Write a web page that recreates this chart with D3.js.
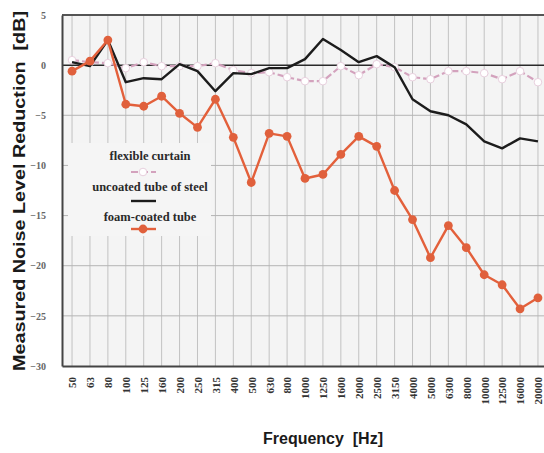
<!DOCTYPE html>
<html>
<head>
<meta charset="utf-8">
<script src="https://cdn.jsdelivr.net/npm/d3@7"></script>
<style>
  html, body { margin: 0; padding: 0; background: #ffffff; }
  svg { display: block; }
</style>
</head>
<body>
<svg id="chart" width="544" height="453"></svg>
<script>
// Third-octave band centre frequencies (Hz)
const categories = ["50","63","80","100","125","160","200","250","315","400","500","630","800",
  "1000","1250","1600","2000","2500","3150","4000","5000","6300","8000","10000","12500","16000","20000"];

// Measured noise level reduction (dB) per band
const flexibleCurtain = [0.5, 0.3, 0.2, -0.3, 0.3, -0.1, -0.1, -0.1, 0.2, -0.5, -0.8, -0.7, -1.2,
  -1.6, -1.6, -0.1, -1.0, 0.1, -0.2, -1.2, -1.4, -0.6, -0.6, -0.8, -1.4, -0.6, -1.7];
const uncoatedTube = [0.3, -0.1, 2.5, -1.7, -1.3, -1.4, 0.1, -0.6, -2.6, -0.8, -0.9, -0.3, -0.3,
  0.6, 2.6, 1.5, 0.3, 0.9, -0.2, -3.4, -4.6, -5.0, -5.9, -7.6, -8.3, -7.3, -7.6];
const foamCoatedTube = [-0.6, 0.4, 2.5, -3.9, -4.1, -3.1, -4.8, -6.2, -3.4, -7.2, -11.7, -6.8, -7.1,
  -11.3, -10.9, -8.9, -7.1, -8.1, -12.5, -15.4, -19.2, -16.0, -18.2, -20.9, -21.9, -24.3, -23.2];

const yTicks = [5, 0, -5, -10, -15, -20, -25, -30];
const legendLabels = ["flexible curtain", "uncoated tube of steel", "foam-coated tube"];

const svg = d3.select("#chart");
const plotLeft = 62, plotRight = 548, plotTop = 15, plotBottom = 366;

const x = d3.scalePoint().domain(categories).range([plotLeft, plotRight]).padding(0.56);
const y = d3.scaleLinear().domain([-30, 5]).range([plotBottom, plotTop]);

// plot background
svg.append("rect")
  .attr("x", plotLeft).attr("y", plotTop)
  .attr("width", plotRight - plotLeft).attr("height", plotBottom - plotTop)
  .attr("fill", "#f4f4f4");

// vertical grid at every band
svg.append("g").selectAll("line").data(categories).join("line")
  .attr("x1", d => x(d)).attr("x2", d => x(d))
  .attr("y1", plotTop).attr("y2", plotBottom)
  .attr("stroke", "#c2c2c2").attr("stroke-width", 1);

// horizontal grid
svg.append("g").selectAll("line").data(yTicks.filter(v => v !== 0 && v !== 5 && v !== -30)).join("line")
  .attr("x1", plotLeft).attr("x2", plotRight)
  .attr("y1", d => y(d)).attr("y2", d => y(d))
  .attr("stroke", "#b4b4b4").attr("stroke-width", 1);

// legend panel covers the grid behind it
svg.append("rect")
  .attr("x", 68).attr("y", 143).attr("width", 143).attr("height", 93)
  .attr("fill", "#f5f5f5");

// zero reference line
svg.append("line")
  .attr("x1", plotLeft).attr("x2", plotRight)
  .attr("y1", y(0)).attr("y2", y(0))
  .attr("stroke", "#2a2a2a").attr("stroke-width", 1.5);

// frame top
svg.append("line").attr("x1", plotLeft).attr("x2", plotRight).attr("y1", plotTop).attr("y2", plotTop)
  .attr("stroke", "#555").attr("stroke-width", 2);

// y axis
const yAxis = svg.append("g")
  .attr("transform", `translate(${plotLeft},0)`)
  .call(d3.axisLeft(y).tickValues(yTicks).tickSize(0).tickPadding(16));
yAxis.select(".domain").attr("stroke", "#444").attr("stroke-width", 2);
yAxis.selectAll("text")
  .attr("font-family", "Liberation Serif, serif")
  .attr("font-size", 10)
  .attr("font-weight", "bold")
  .attr("fill", "#666");

// x axis
const xAxis = svg.append("g")
  .attr("transform", `translate(0,${plotBottom})`)
  .call(d3.axisBottom(x).tickSize(0));
xAxis.select(".domain").attr("stroke", "#444").attr("stroke-width", 2);
xAxis.selectAll("text")
  .attr("transform", "rotate(-90)")
  .attr("x", -11).attr("y", 0).attr("dy", "0.35em")
  .style("text-anchor", "end")
  .attr("font-family", "Liberation Serif, serif")
  .attr("font-size", 11)
  .attr("font-weight", "bold")
  .attr("fill", "#333");

const line = d3.line().x((d, i) => x(categories[i])).y(d => y(d));

// flexible curtain: dashed mauve with hollow markers
svg.append("path").datum(flexibleCurtain)
  .attr("d", line).attr("fill", "none")
  .attr("stroke", "#d3a2bd").attr("stroke-width", 2.2)
  .attr("stroke-dasharray", "7,3");
svg.append("g").selectAll("circle").data(flexibleCurtain).join("circle")
  .attr("cx", (d, i) => x(categories[i])).attr("cy", d => y(d)).attr("r", 3.8)
  .attr("fill", "#ffffff").attr("stroke", "#e8d0de").attr("stroke-width", 1);

// uncoated steel tube: solid black
svg.append("path").datum(uncoatedTube)
  .attr("d", line).attr("fill", "none")
  .attr("stroke", "#1c1c1c").attr("stroke-width", 2.4)
  .attr("stroke-linejoin", "round");

// foam-coated tube: orange with filled markers
svg.append("path").datum(foamCoatedTube)
  .attr("d", line).attr("fill", "none")
  .attr("stroke", "#e3603b").attr("stroke-width", 2.4)
  .attr("stroke-linejoin", "round");
svg.append("g").selectAll("circle").data(foamCoatedTube).join("circle")
  .attr("cx", (d, i) => x(categories[i])).attr("cy", d => y(d)).attr("r", 4.4)
  .attr("fill", "#e0603c");

// legend
const legend = svg.append("g");
const legendText = [156, 187, 217];
const legendMark = [172, 201, 229];
legend.selectAll("text").data(legendLabels).join("text")
  .attr("x", 150).attr("y", (d, i) => legendText[i] + 4)
  .attr("text-anchor", "middle")
  .attr("font-family", "Liberation Serif, serif")
  .attr("font-weight", "bold").attr("font-size", 12.5)
  .attr("fill", "#2a2a2a")
  .text(d => d);
legend.append("line").attr("x1", 131).attr("x2", 156).attr("y1", legendMark[0]).attr("y2", legendMark[0])
  .attr("stroke", "#d3a2bd").attr("stroke-width", 2.2).attr("stroke-dasharray", "7,3");
legend.append("circle").attr("cx", 143).attr("cy", legendMark[0]).attr("r", 3.8)
  .attr("fill", "#fff").attr("stroke", "#e8d0de");
legend.append("line").attr("x1", 131).attr("x2", 156).attr("y1", legendMark[1]).attr("y2", legendMark[1])
  .attr("stroke", "#1c1c1c").attr("stroke-width", 2.4);
legend.append("line").attr("x1", 131).attr("x2", 156).attr("y1", legendMark[2]).attr("y2", legendMark[2])
  .attr("stroke", "#e3603b").attr("stroke-width", 2.4);
legend.append("circle").attr("cx", 143).attr("cy", legendMark[2]).attr("r", 4.4)
  .attr("fill", "#e0603c");

// axis titles
svg.append("text")
  .attr("transform", "translate(25,191) rotate(-90)")
  .attr("text-anchor", "middle")
  .attr("font-family", "Liberation Sans, Arial, sans-serif")
  .attr("font-weight", "bold").attr("font-size", 17)
  .attr("fill", "#1a1a1a")
  .attr("xml:space", "preserve")
  .attr("textLength", 360)
  .attr("lengthAdjust", "spacingAndGlyphs")
  .text("Measured Noise Level Reduction  [dB]");

svg.append("text")
  .attr("x", 323).attr("y", 444)
  .attr("text-anchor", "middle")
  .attr("font-family", "Liberation Sans, Arial, sans-serif")
  .attr("font-weight", "bold").attr("font-size", 16)
  .attr("fill", "#1a1a1a")
  .attr("xml:space", "preserve")
  .text("Frequency  [Hz]");
</script>
</body>
</html>
